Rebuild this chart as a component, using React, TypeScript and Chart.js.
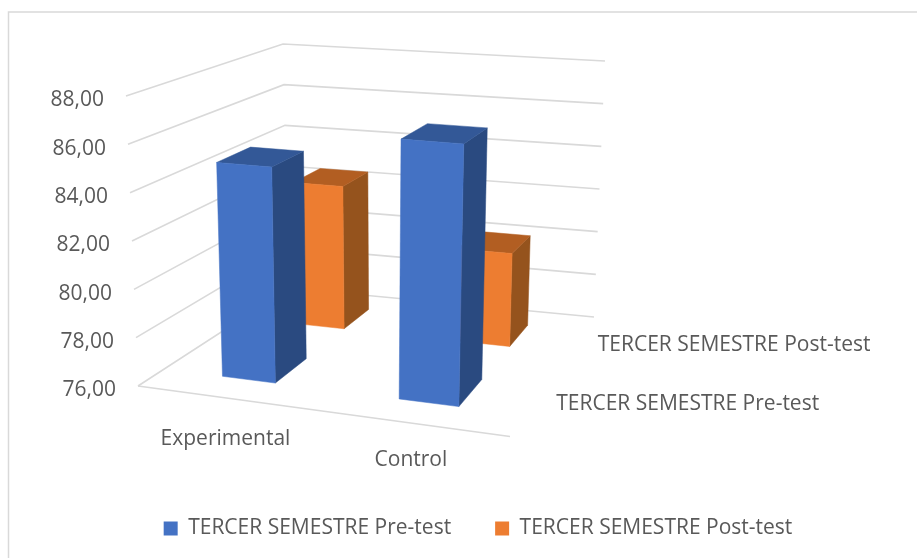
import React, { useEffect, useRef } from "react";
import { Chart, registerables } from "chart.js";

Chart.register(...registerables);

const categories = ["Experimental", "Control"];
const seriesNames = ["TERCER SEMESTRE Pre-test", "TERCER SEMESTRE Post-test"];
const preTest = [85.0, 86.58];
const postTest = [82.5, 80.13];
const yMin = 76;
const yMax = 88;
const yStep = 2;

const FONT = "'Open Sans', Lato, sans-serif";
const FONT_SIZE = 21;
const TEXT = "#595959";
const GRID = "#D9D9D9";

const palette = [
  { front: "#4472C4", side: "#2A4A80", top: "#335897" },
  { front: "#ED7D31", side: "#95531D", top: "#B25E22" },
];

type Pt = [number, number];

// Builds the perspective map of the unit square onto a quad: (0,0) (1,0) (1,1) (0,1)
function quadMap(p0: Pt, p1: Pt, p2: Pt, p3: Pt) {
  const sx = p0[0] - p1[0] + p2[0] - p3[0];
  const sy = p0[1] - p1[1] + p2[1] - p3[1];
  const dx1 = p1[0] - p2[0];
  const dy1 = p1[1] - p2[1];
  const dx2 = p3[0] - p2[0];
  const dy2 = p3[1] - p2[1];
  const den = dx1 * dy2 - dx2 * dy1;
  const g = (sx * dy2 - dx2 * sy) / den;
  const h = (dx1 * sy - sx * dy1) / den;
  const a = p1[0] - p0[0] + g * p1[0];
  const b = p3[0] - p0[0] + h * p3[0];
  const d = p1[1] - p0[1] + g * p1[1];
  const e = p3[1] - p0[1] + h * p3[1];
  return (u: number, w: number): Pt => {
    const q = g * u + h * w + 1;
    return [(a * u + b * w + p0[0]) / q, (d * u + e * w + p0[1]) / q];
  };
}

// The 3D box of the plot as seen on the page
const floor = quadMap([138, 386], [510, 436.5], [594, 317], [289, 288]);
const ceiling = quadMap([126, 96], [519, 125], [605, 61], [283, 44]);

function project(u: number, w: number, v: number): Pt {
  const f = floor(u, w);
  const c = ceiling(u, w);
  return [f[0] + (c[0] - f[0]) * v, f[1] + (c[1] - f[1]) * v];
}

const depthCentres = [0.25, 0.75];
const depthHalf = 0.105;
const uShift = 0.006;
const categoryLabelDrop = [42, 37];

function poly(ctx: CanvasRenderingContext2D, pts: Pt[], fill: string) {
  ctx.beginPath();
  pts.forEach((p, i) => (i ? ctx.lineTo(p[0], p[1]) : ctx.moveTo(p[0], p[1])));
  ctx.closePath();
  ctx.fillStyle = fill;
  ctx.strokeStyle = fill;
  ctx.lineWidth = 0.5;
  ctx.fill();
  ctx.stroke();
}

const box3d = {
  id: "box3d",
  beforeDatasetsDraw(chart: any) {
    const { ctx, scales } = chart;
    const y = scales.y;
    const font = `${FONT_SIZE}px ${FONT}`;
    ctx.save();
    // frame
    ctx.strokeStyle = GRID;
    ctx.lineWidth = 1.5;
    ctx.beginPath();
    ctx.moveTo(8.5, 558);
    ctx.lineTo(8.5, 12);
    ctx.lineTo(917, 12);
    ctx.stroke();
    // walls
    ctx.lineWidth = 1.6;
    const span = y.bottom - y.top;
    y.ticks.forEach((t: any) => {
      const v = (y.bottom - y.getPixelForValue(t.value)) / span;
      const a = project(0, 0, v);
      const b = project(0, 1, v);
      const c = project(1, 1, v);
      ctx.strokeStyle = GRID;
      ctx.beginPath();
      ctx.moveTo(a[0], a[1]);
      ctx.lineTo(b[0], b[1]);
      ctx.lineTo(c[0], c[1]);
      ctx.stroke();
      ctx.fillStyle = TEXT;
      ctx.font = font;
      ctx.textAlign = "right";
      ctx.textBaseline = "middle";
      ctx.fillText(t.label, a[0] - 22, a[1] + 4.5);
    });
    // floor front edge
    const f0 = project(0, 0, 0);
    const f1 = project(1, 0, 0);
    ctx.beginPath();
    ctx.moveTo(f0[0], f0[1]);
    ctx.lineTo(f1[0], f1[1]);
    ctx.stroke();
    // category and depth labels
    ctx.fillStyle = TEXT;
    ctx.font = font;
    ctx.textBaseline = "middle";
    ctx.textAlign = "center";
    const x = scales.x;
    categories.forEach((c, i) => {
      const u = (x.getPixelForValue(i) - x.left) / x.width;
      const p = project(u, 0, 0);
      ctx.fillText(c, p[0] + 3, p[1] + categoryLabelDrop[i]);
    });
    ctx.textAlign = "left";
    seriesNames.forEach((s, i) => {
      const p = project(1, depthCentres[i], 0);
      ctx.fillText(s, p[0] + 21, p[1] + 3);
    });
    ctx.restore();
  },
  beforeDatasetDraw(chart: any, args: any) {
    const { ctx, chartArea } = chart;
    const meta = chart.getDatasetMeta(args.index);
    const col = palette[args.index];
    const w0 = depthCentres[args.index] - depthHalf;
    const w1 = depthCentres[args.index] + depthHalf;
    const span = chartArea.bottom - chartArea.top;
    ctx.save();
    meta.data.forEach((el: any) => {
      const uc = (el.x - chartArea.left) / chartArea.width + uShift;
      const half = el.width / chartArea.width / 2;
      const u0 = uc - half;
      const u1 = uc + half;
      const v = (chartArea.bottom - el.y) / span;
      // right side
      poly(ctx, [project(u1, w0, 0), project(u1, w1, 0), project(u1, w1, v), project(u1, w0, v)], col.side);
      // top
      poly(ctx, [project(u0, w0, v), project(u1, w0, v), project(u1, w1, v), project(u0, w1, v)], col.top);
      // front
      poly(ctx, [project(u0, w0, 0), project(u1, w0, 0), project(u1, w0, v), project(u0, w0, v)], col.front);
    });
    ctx.restore();
    return false;
  },
};

export default function App() {
  const ref = useRef<HTMLCanvasElement>(null);
  useEffect(() => {
    if (!ref.current) return;
    const chart = new Chart(ref.current, {
      type: "bar",
      data: {
        labels: categories,
        datasets: [
          { label: seriesNames[0], data: preTest, backgroundColor: palette[0].front },
          { label: seriesNames[1], data: postTest, backgroundColor: palette[1].front },
        ],
      },
      options: {
        animation: false,
        responsive: false,
        layout: { padding: { top: 96, left: 39, right: 0, bottom: 9 } },
        datasets: { bar: { grouped: false, categoryPercentage: 1, barPercentage: 0.312 } },
        plugins: {
          tooltip: { enabled: false },
          legend: {
            position: "bottom",
            labels: {
              font: { family: FONT, size: FONT_SIZE },
              color: TEXT,
              boxWidth: 14,
              boxHeight: 14,
              padding: 44,
            },
          },
        },
        scales: {
          x: {
            grid: { display: false },
            border: { display: false },
            ticks: { display: false },
          },
          y: {
            min: yMin,
            max: yMax,
            grid: { display: false },
            border: { display: false },
            ticks: {
              display: false,
              stepSize: yStep,
              callback: (v: any) => Number(v).toFixed(2).replace(".", ","),
            },
          },
        },
      } as any,
      plugins: [box3d as any],
    });
    return () => chart.destroy();
  }, []);
  return (
    <canvas
      ref={ref}
      width={917}
      height={558}
      style={{ position: "fixed", left: 0, top: 0, display: "block", background: "#fff" }}
    />
  );
}
